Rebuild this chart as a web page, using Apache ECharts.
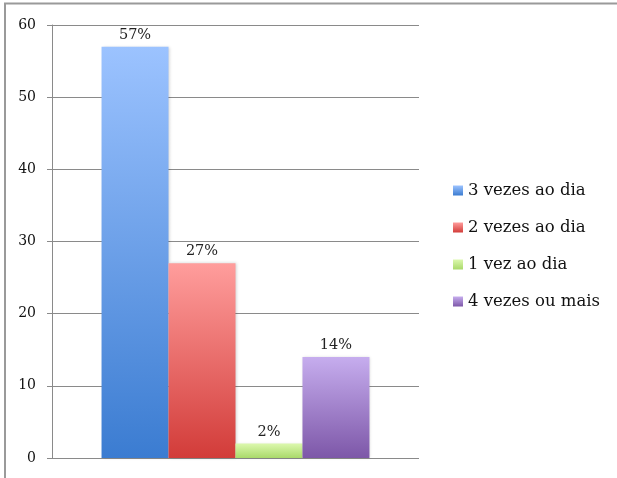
<!DOCTYPE html>
<html>
<head>
<meta charset="utf-8">
<script src="https://cdn.jsdelivr.net/npm/echarts@6/dist/echarts.min.js"></script>
<style>
html,body{margin:0;padding:0;background:#fff;}
#chart{width:617px;height:478px;}
</style>
</head>
<body>
<div id="chart"></div>
<script>
const categories = [''];
const seriesNames = ['3 vezes ao dia', '2 vezes ao dia', '1 vez ao dia', '4 vezes ou mais'];
const seriesValues = [57, 27, 2, 14];
const yTicks = [0, 10, 20, 30, 40, 50, 60];
const gradientStops = [
  ['#9cc3ff', '#3b7cd1'],
  ['#ff9d9c', '#d23c39'],
  ['#dcf8ae', '#a9d96a'],
  ['#c6adee', '#7d57a8']
];

const FONT = 'DejaVu Serif';
const chart = echarts.init(document.getElementById('chart'), null, {renderer: 'canvas'});

const series = seriesNames.map((name, i) => ({
  name: name,
  type: 'bar',
  data: [seriesValues[i]],
  barGap: '0%',
  barCategoryGap: '27%',
  itemStyle: {
    color: new echarts.graphic.LinearGradient(0, 0, 0, 1, [
      {offset: 0, color: gradientStops[i][0]},
      {offset: 1, color: gradientStops[i][1]}
    ]),
    shadowColor: 'rgba(0,0,0,0.18)',
    shadowBlur: 3,
    shadowOffsetX: 1
  },
  label: {
    show: true,
    position: 'top',
    distance: 4,
    formatter: p => p.value + '%',
    fontFamily: FONT,
    fontSize: 14.5,
    color: '#222'
  }
}));

chart.setOption({
  animation: false,
  backgroundColor: '#fff',
  grid: {left: 52, right: 198, top: 25, bottom: 20, containLabel: false},
  legend: {
    orient: 'vertical',
    left: 448,
    top: 177,
    itemWidth: 10,
    itemHeight: 10,
    itemGap: 20,
    icon: 'rect',
    textStyle: {fontFamily: FONT, fontSize: 16.5, color: '#111', lineHeight: 17},
    data: seriesNames
  },
  xAxis: {
    type: 'category',
    data: categories,
    axisLine: {show: false},
    axisTick: {show: false},
    axisLabel: {show: false}
  },
  yAxis: {
    type: 'value',
    min: yTicks[0],
    max: yTicks[yTicks.length - 1],
    interval: 10,
    axisLine: {show: true, lineStyle: {color: '#8a8a8a', width: 1}},
    axisTick: {show: true, length: 5, lineStyle: {color: '#8a8a8a'}},
    axisLabel: {fontFamily: FONT, fontSize: 14, color: '#111', margin: 16},
    splitLine: {show: true, lineStyle: {color: '#8a8a8a', width: 1}}
  },
  graphic: [{
    type: 'polyline',
    shape: {points: [[5, 478], [5, 3.5], [617, 3.5]]},
    style: {stroke: '#9a9a9a', lineWidth: 2, fill: null},
    silent: true
  }],
  series: series
});
</script>
</body>
</html>
